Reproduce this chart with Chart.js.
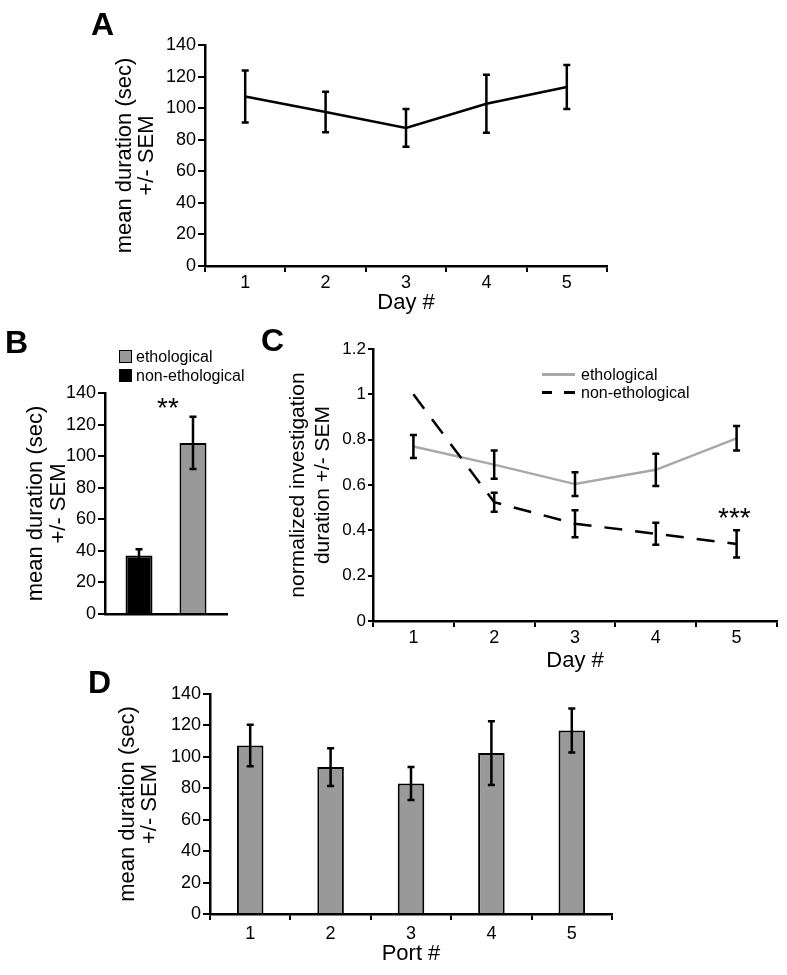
<!DOCTYPE html>
<html lang="en">
<head>
<meta charset="UTF-8">
<title>Investigation duration</title>
<script src="https://cdn.jsdelivr.net/npm/chart.js"></script>
<style>
  body { margin: 0; background: #fff; font-family: 'Liberation Sans', Arial, sans-serif; color: #000; }
  #page { position: relative; width: 787px; height: 975px; overflow: hidden; }
  .panel { position: absolute; }
  .letter { position: absolute; font-weight: bold; font-size: 32px; line-height: 32px; }
  .star { position: absolute; font-size: 28px; line-height: 28px; }
  .row { position: absolute; display: flex; align-items: center; font-size: 16px; line-height: 19px; height: 19px; }
  .sq { width: 11px; height: 11px; border: 1px solid #000; margin-right: 4px; }
  .ln { width: 33px; height: 3px; margin-right: 6px; }
</style>
</head>
<body>
<div id="page">
  <div class="panel" style="left:0px;top:0px"><canvas id="chartA" width="640" height="326"></canvas></div>
  <div class="panel" style="left:0px;top:330px"><canvas id="chartB" width="250" height="300"></canvas></div>
  <div class="panel" style="left:250px;top:330px"><canvas id="chartC" width="537" height="345"></canvas></div>
  <div class="panel" style="left:0px;top:675px"><canvas id="chartD" width="640" height="300"></canvas></div>

  <div class="letter" style="left:91px;top:8px">A</div>
  <div class="letter" style="left:5px;top:326px">B</div>
  <div class="letter" style="left:261px;top:324px">C</div>
  <div class="letter" style="left:88px;top:666px">D</div>

  <div class="star" style="left:157px;top:394px">**</div>
  <div class="star" style="left:718px;top:504px">***</div>

  <div id="legB"></div>
  <div id="legC"></div>
</div>
<script>
// ---- data ----
const days = ['1', '2', '3', '4', '5'];
const ports = ['1', '2', '3', '4', '5'];
const durTicks = [0, 20, 40, 60, 80, 100, 120, 140];
const durTickLabels = ['0', '20', '40', '60', '80', '100', '120', '140'];
const normTicks = [0, 0.2, 0.4, 0.6, 0.8, 1, 1.2];
const normTickLabels = ['0', '0.2', '0.4', '0.6', '0.8', '1', '1.2'];

// A: duration per day
const dayMean = [107.4, 97.6, 87.5, 102.8, 113.4];
const daySem = [16.5, 12.8, 12, 18.4, 13.9];

// B: odor type
const groupNames = ['ethological', 'non-ethological'];
const ethoMean = [108.4];
const ethoSem = [16.5];
const nonEthoMean = [37];
const nonEthoSem = [4];

// C: normalized per day
const ethoNorm = [0.77, 0.69, 0.604, 0.667, 0.806];
const ethoNormSem = [0.051, 0.062, 0.052, 0.071, 0.054];
const nonEthoNorm = [1.0, 0.524, 0.429, 0.385, 0.34];
const nonEthoNormSem = [0, 0.042, 0.06, 0.049, 0.06];

// D: per port
const portMean = [107.3, 93.5, 83, 102.4, 116.7];
const portSem = [13.2, 12, 10.5, 20.3, 14];

const GREY_BAR = '#999999';
const GREY_LINE = '#a8a8a8';
const FONT = "'Liberation Sans', Arial, sans-serif";

Chart.defaults.font.family = FONT;
Chart.defaults.color = '#000';

// draws +/- sem whiskers for any dataset with a sem array
const errorBars = {
  id: 'errorBars',
  afterDatasetsDraw(chart) {
    const ctx = chart.ctx;
    const ys = chart.scales.y;
    chart.data.datasets.forEach((ds, i) => {
      if (!ds.sem) return;
      chart.getDatasetMeta(i).data.forEach((el, j) => {
        const e = ds.sem[j];
        if (!e) return;
        const v = ds.data[j];
        const t = ys.getPixelForValue(v + e);
        const b = ys.getPixelForValue(v - e);
        ctx.save();
        ctx.strokeStyle = '#000';
        ctx.lineWidth = 2.5;
        ctx.setLineDash([]);
        ctx.beginPath();
        ctx.moveTo(el.x, t); ctx.lineTo(el.x, b);
        ctx.moveTo(el.x - 3.5, t); ctx.lineTo(el.x + 3.5, t);
        ctx.moveTo(el.x - 3.5, b); ctx.lineTo(el.x + 3.5, b);
        ctx.stroke();
        ctx.restore();
      });
    });
  }
};

function yScale(ticks, labels, width, title, pad, lh, tickLen, tickSize, titleSize) {
  return {
    min: ticks[0],
    max: ticks[ticks.length - 1],
    afterBuildTicks: s => { s.ticks = ticks.map(v => ({ value: v })); },
    afterFit: s => { s.width = width; },
    border: { color: '#000', width: 2.5 },
    grid: { drawOnChartArea: false, drawTicks: true, tickLength: tickLen, color: '#000', lineWidth: 2 },
    ticks: { font: { size: tickSize }, padding: 2, callback: (v, i) => labels[i] },
    title: { display: true, text: title, font: { size: titleSize, lineHeight: lh }, padding: { top: pad, bottom: 0 } }
  };
}

function xScale(height, title, pad, showTicks, tickSize, tickPad) {
  return {
    offset: true,
    afterFit: s => { s.height = height; },
    border: { color: '#000', width: 2.5 },
    grid: { offset: true, drawOnChartArea: false, drawTicks: showTicks, tickLength: 6, color: '#000', lineWidth: 2 },
    ticks: { display: showTicks, font: { size: tickSize }, padding: tickPad },
    title: { display: !!title, text: title, font: { size: 22, lineHeight: 1 }, padding: { top: 0, bottom: pad } }
  };
}

const base = {
  responsive: false,
  animation: false,
  plugins: { legend: { display: false }, tooltip: { enabled: false } }
};

// A
new Chart(document.getElementById('chartA'), {
  type: 'line',
  data: {
    labels: days,
    datasets: [{ data: dayMean, sem: daySem, borderColor: '#000', borderWidth: 2.5, pointRadius: 0, tension: 0 }]
  },
  options: Object.assign({}, base, {
    layout: { padding: { top: 45, right: 33, bottom: 0, left: 0 } },
    scales: {
      x: xScale(60, 'Day #', 12, true, 18, 0),
      y: yScale(durTicks, durTickLabels, 205, ['mean duration (sec)', '+/- SEM'], 114, 1.0, 7, 18, 22)
    }
  }),
  plugins: [errorBars]
});

// B
new Chart(document.getElementById('chartB'), {
  type: 'bar',
  data: {
    labels: [''],
    datasets: [
      { label: groupNames[1], data: nonEthoMean, sem: nonEthoSem, backgroundColor: '#000', borderColor: '#000', borderWidth: 2 },
      { label: groupNames[0], data: ethoMean, sem: ethoSem, backgroundColor: GREY_BAR, borderColor: '#000', borderWidth: 2 }
    ]
  },
  options: Object.assign({}, base, {
    layout: { padding: { top: 63, right: 23, bottom: 0, left: 0 } },
    datasets: { bar: { categoryPercentage: 0.885, barPercentage: 0.5 } },
    scales: {
      x: xScale(16, '', 0, false, 18, 0),
      y: yScale(durTicks, durTickLabels, 105, ['mean duration (sec)', '+/- SEM'], 24, 1.05, 7, 18, 22)
    }
  }),
  plugins: [errorBars]
});

// C
new Chart(document.getElementById('chartC'), {
  type: 'line',
  data: {
    labels: days,
    datasets: [
      { label: groupNames[0], data: ethoNorm, sem: ethoNormSem, borderColor: GREY_LINE, borderWidth: 2.5, pointRadius: 0, tension: 0, order: 2 },
      { label: groupNames[1], data: nonEthoNorm, sem: nonEthoNormSem, borderColor: '#000', borderWidth: 2.5, borderDash: [18, 13], pointRadius: 0, tension: 0, order: 1 }
    ]
  },
  options: Object.assign({}, base, {
    layout: { padding: { top: 19, right: 10, bottom: 0, left: 0 } },
    scales: {
      x: xScale(54, 'Day #', 3, true, 18, 0),
      y: yScale(normTicks, normTickLabels, 123, ['normalized investigation', 'duration +/- SEM'], 36, 1.19, 5, 17, 21)
    }
  }),
  plugins: [errorBars]
});

// D
new Chart(document.getElementById('chartD'), {
  type: 'bar',
  data: {
    labels: ports,
    datasets: [{ data: portMean, sem: portSem, backgroundColor: GREY_BAR, borderColor: '#000', borderWidth: 2 }]
  },
  options: Object.assign({}, base, {
    layout: { padding: { top: 19, right: 28, bottom: 0, left: 0 } },
    datasets: { bar: { categoryPercentage: 1, barPercentage: 0.33 } },
    scales: {
      x: xScale(61, 'Port #', 10, true, 18, 3),
      y: yScale(durTicks, durTickLabels, 210, ['mean duration (sec)', '+/- SEM'], 117, 1.0, 7, 18, 22)
    }
  }),
  plugins: [errorBars]
});

// legends
const legB = document.getElementById('legB');
[[groupNames[0], GREY_BAR, 356], [groupNames[1], '#000', 375]].forEach(([name, col, cy]) => {
  const r = document.createElement('div');
  r.className = 'row';
  r.style.left = '119px';
  r.style.top = (cy - 9.5) + 'px';
  r.innerHTML = '<span class="sq" style="background:' + col + '"></span><span>' + name + '</span>';
  legB.appendChild(r);
});
const legC = document.getElementById('legC');
[[groupNames[0], 'background:' + GREY_LINE, 374],
 [groupNames[1], 'background:linear-gradient(to right,#000 0 10px,transparent 10px 22px,#000 22px 33px)', 392]].forEach(([name, bg, cy]) => {
  const r = document.createElement('div');
  r.className = 'row';
  r.style.left = '542px';
  r.style.top = (cy - 9.5) + 'px';
  r.innerHTML = '<span class="ln" style="' + bg + '"></span><span>' + name + '</span>';
  legC.appendChild(r);
});
</script>
</body>
</html>
